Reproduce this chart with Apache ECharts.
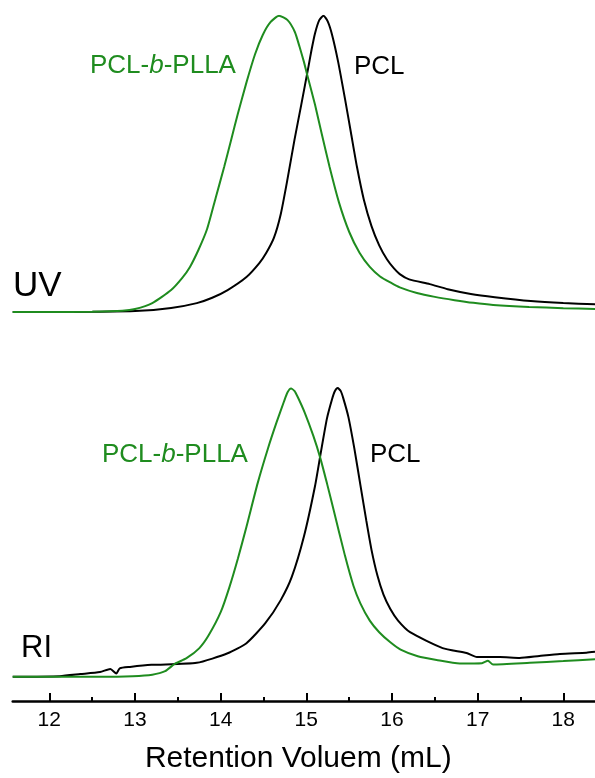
<!DOCTYPE html>
<html>
<head>
<meta charset="utf-8">
<script src="https://cdn.jsdelivr.net/npm/echarts@6/dist/echarts.min.js"></script>
<style>
    html, body {margin: 0; padding: 0; background: #fff;}
    #container {width: 595px; height: 778px;}
</style>
</head>
<body>
<div id="container"></div>
<script type="text/javascript">
    // [retention volume (mL), normalised signal]
    var uvBlock = [[11.57, 0], [12.0, 0], [12.5, 0.001], [12.85, 0.004], [13.0, 0.01], [13.2, 0.03], [13.42, 0.074],
        [13.55, 0.115], [13.64, 0.152], [13.74, 0.21], [13.84, 0.28], [13.94, 0.385], [14.04, 0.49], [14.12, 0.58],
        [14.2, 0.67], [14.3, 0.775], [14.4, 0.87], [14.49, 0.935], [14.58, 0.978], [14.68, 1.0], [14.78, 0.985],
        [14.865, 0.945], [14.92, 0.895], [14.97, 0.845], [15.005, 0.805], [15.1, 0.7], [15.18, 0.6], [15.27, 0.49],
        [15.38, 0.37], [15.5, 0.27], [15.62, 0.2], [15.74, 0.152], [15.86, 0.12], [15.99, 0.098], [16.09, 0.083],
        [16.29, 0.064], [16.5, 0.051], [16.73, 0.04], [16.95, 0.031], [17.18, 0.024], [17.6, 0.017], [18.0, 0.013],
        [18.37, 0.01]];
    var uvPcl = [[11.57, 0], [12.0, 0], [12.5, 0.001], [13.0, 0.003], [13.42, 0.0135], [13.72, 0.03], [13.9, 0.048],
        [14.08, 0.074], [14.3, 0.118], [14.45, 0.165], [14.53, 0.199], [14.62, 0.25], [14.7, 0.33], [14.78, 0.45],
        [14.86, 0.58], [14.94, 0.7], [15.025, 0.83], [15.06, 0.885], [15.1, 0.94], [15.15, 0.985], [15.2, 1.0],
        [15.25, 0.98], [15.3, 0.935], [15.37, 0.845], [15.45, 0.72], [15.52, 0.605], [15.59, 0.49], [15.67, 0.38],
        [15.76, 0.29], [15.85, 0.225], [15.94, 0.178], [16.02, 0.148], [16.09, 0.128], [16.2, 0.11], [16.44, 0.094],
        [16.65, 0.077], [16.92, 0.061], [17.2, 0.05], [17.62, 0.037], [18.0, 0.03], [18.37, 0.026]];
    var riBlock = [[11.57, 0.001], [12.0, 0.001], [12.59, 0.001], [12.97, 0.003], [13.2, 0.008], [13.35, 0.02],
        [13.46, 0.045], [13.6, 0.065], [13.75, 0.1], [13.86, 0.145], [14.0, 0.225], [14.1, 0.31], [14.2, 0.41],
        [14.3, 0.52], [14.43, 0.67], [14.55, 0.79], [14.65, 0.88], [14.74, 0.955], [14.78, 0.985], [14.82, 0.998],
        [14.86, 0.99], [14.9, 0.968], [14.98, 0.915], [15.08, 0.835], [15.16, 0.76], [15.24, 0.67], [15.32, 0.575],
        [15.45, 0.42], [15.55, 0.315], [15.63, 0.255], [15.74, 0.195], [15.85, 0.155], [15.98, 0.12], [16.1, 0.095],
        [16.3, 0.072], [16.52, 0.059], [16.79, 0.047], [17.05, 0.048], [17.12, 0.056], [17.18, 0.043], [17.61, 0.049],
        [18.0, 0.055], [18.37, 0.061]];
    var riPcl = [[11.57, 0.001], [12.12, 0.003], [12.36, 0.01], [12.59, 0.017], [12.71, 0.028], [12.78, 0.012],
        [12.82, 0.03], [12.94, 0.035], [13.19, 0.042], [13.72, 0.049], [14.08, 0.082], [14.3, 0.117], [14.52, 0.186],
        [14.7, 0.266], [14.83, 0.347], [14.97, 0.485], [15.1, 0.66], [15.17, 0.78], [15.24, 0.895], [15.3, 0.962],
        [15.33, 0.988], [15.365, 1.0], [15.4, 0.99], [15.43, 0.965], [15.49, 0.9], [15.56, 0.79], [15.63, 0.665],
        [15.7, 0.54], [15.76, 0.44], [15.83, 0.35], [15.9, 0.285], [15.98, 0.235], [16.07, 0.195], [16.21, 0.155],
        [16.59, 0.1], [16.87, 0.083], [16.99, 0.069], [17.26, 0.069], [17.49, 0.066], [17.72, 0.073], [17.96, 0.08],
        [18.27, 0.084], [18.37, 0.087]];

    var FONT = '"Liberation Sans", Arial, sans-serif';
    var GREEN = '#1f8c1f';

    var dom = document.getElementById("container");
    var myChart = echarts.init(dom);

    function curve(name, data, idx, color) {
        return {
            name: name,
            type: 'line',
            xAxisIndex: idx,
            yAxisIndex: idx,
            data: data,
            showSymbol: false,
            smooth: 0.2,
            lineStyle: {color: color, width: 2},
            itemStyle: {color: color}
        };
    }

    function label(x, y, color, block) {
        var base = {fill: color, fontSize: 26, fontFamily: FONT};
        return {
            type: 'text', x: x, y: y,
            style: {
                text: block ? '{n|PCL-}{i|b}{n|-PLLA}' : '{n|PCL}',
                fill: color, fontSize: 26, fontFamily: FONT, verticalAlign: 'middle',
                rich: {n: base, i: {fill: color, fontSize: 26, fontFamily: FONT, fontStyle: 'italic'}}
            }
        };
    }

    var option = {
        animation: false,
        backgroundColor: '#fff',
        grid: [
            {left: 12.7, right: 0, top: 15.7, height: 296.3, outerBoundsMode: 'none'},
            {left: 12.7, right: 0, top: 388, height: 289, outerBoundsMode: 'none'},
            {left: 49.3, right: 31.7, top: 600, height: 101, outerBoundsMode: 'none'}
        ],
        xAxis: [
            {gridIndex: 0, type: 'value', min: 11.57, max: 18.37, show: false},
            {
                gridIndex: 1, type: 'value', min: 11.57, max: 18.37, position: 'bottom', offset: 24,
                axisLine: {onZero: false, lineStyle: {color: '#000', width: 2.5}},
                axisTick: {show: false}, axisLabel: {show: false}, splitLine: {show: false}
            },
            {
                gridIndex: 2, type: 'value', min: 12, max: 18, interval: 1, position: 'bottom',
                axisLine: {show: false, onZero: false},
                axisTick: {inside: true, length: 8, lineStyle: {color: '#000', width: 2}},
                axisLabel: {fontSize: 21, color: '#000', fontFamily: FONT, margin: 9},
                splitLine: {show: false},
                name: 'Retention Voluem (mL)', nameLocation: 'middle', nameGap: 43,
                nameTextStyle: {fontSize: 30, color: '#000', fontFamily: FONT, padding: [0, 16, 0, 0]}
            },
            {
                gridIndex: 2, type: 'value', min: 12, max: 18, interval: 0.5, position: 'bottom',
                axisLine: {show: false, onZero: false},
                axisTick: {inside: true, length: 4, lineStyle: {color: '#000', width: 2}},
                axisLabel: {show: false}, splitLine: {show: false}
            }
        ],
        yAxis: [
            {gridIndex: 0, type: 'value', min: 0, max: 1, show: false},
            {gridIndex: 1, type: 'value', min: 0, max: 1, show: false},
            {gridIndex: 2, type: 'value', min: 0, max: 1, show: false}
        ],
        graphic: [
            {type: 'text', x: 13, y: 286, style: {text: 'UV', fill: '#000', fontSize: 35, fontFamily: FONT, verticalAlign: 'middle'}},
            {type: 'text', x: 21, y: 648, style: {text: 'RI', fill: '#000', fontSize: 31, fontFamily: FONT, verticalAlign: 'middle'}},
            label(90, 66, GREEN, true),
            label(354, 67, '#000', false),
            label(102, 455, GREEN, true),
            label(370, 455, '#000', false)
        ],
        series: [
            curve('PCL UV', uvPcl, 0, '#000'),
            curve('PCL-b-PLLA UV', uvBlock, 0, GREEN),
            curve('PCL RI', riPcl, 1, '#000'),
            curve('PCL-b-PLLA RI', riBlock, 1, GREEN)
        ]
    };
    myChart.setOption(option);
</script>
</body>
</html>
